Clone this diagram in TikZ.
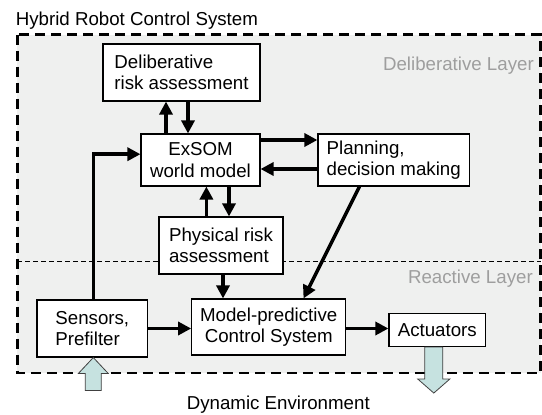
\documentclass[tikz,border=0pt]{standalone}
\usepackage{fontspec}
\setmainfont{Liberation Sans}
\usetikzlibrary{arrows.meta}
\definecolor{layerbg}{RGB}{239,240,239}
\definecolor{layertext}{RGB}{158,158,158}
\definecolor{envfill}{RGB}{198,226,224}
\begin{document}
\begin{tikzpicture}[x=1pt,y=-1pt,
        every node/.style={font=\fontsize{18.7}{21.5}\selectfont},
        block/.style={draw,line width=1.1pt,fill=white,inner sep=3pt},
        flow/.style={line width=3.5pt,-{Triangle[length=13pt,width=13pt]}},
        envarrow/.style={draw=black!75,line width=0.8pt,fill=envfill},
        layerlabel/.style={text=layertext,inner sep=0pt}]
    \useasboundingbox (0,0) rectangle (542,415);
    \fill[layerbg] (17.3,34.6) rectangle (540.7,373);
    \draw[line width=0.9pt,dash pattern=on 5pt off 3pt] (17.3,261) -- (540.7,261);
    \draw[line width=2.5pt,dash pattern=on 10pt off 6pt] (17.3,34.6) rectangle (540.7,373);
    \node[anchor=base west,inner sep=0pt] (title) at (15.6,26) {Hybrid Robot Control System};
    \node[layerlabel,anchor=base east] (dlayer) at (534,70.5) {Deliberative Layer};
    \node[layerlabel,anchor=base east] (rlayer) at (533,283) {Reactive Layer};
    \node[block,align=left,minimum width=157pt,minimum height=57pt] (drisk) at (181.5,72.5) {Deliberative\\risk assessment};
    \node[block,align=center,minimum width=119pt,minimum height=52pt] (exsom) at (200.5,160) {ExSOM\\world model};
    \node[block,align=left,minimum width=151.5pt,minimum height=52pt] (plan) at (393.7,160) {Planning,\\decision making};
    \node[block,align=left,minimum width=124pt,minimum height=57pt] (prisk) at (221,245.5) {Physical risk\\assessment};
    \node[block,align=left,minimum width=110.6pt,minimum height=57pt] (sens) at (92.3,328.5) {Sensors,\\Prefilter};
    \node[block,align=center,minimum width=154pt,minimum height=56pt] (mpc) at (268.7,327) {Model-predictive\\Control System};
    \node[block,minimum width=96.7pt,minimum height=33pt] (act) at (437.3,330) {Actuators};
    \node[anchor=base,inner sep=0pt] (env) at (278.3,409.5) {Dynamic Environment};
    \draw[flow] ([xshift=-34.5pt]exsom.north) -- ([xshift=-34.5pt]exsom.north |- drisk.south);
    \draw[flow] ([xshift=-12.5pt]exsom.north |- drisk.south) -- ([xshift=-12.5pt]exsom.north);
    \draw[flow] ([yshift=20pt]exsom.east) -- ([yshift=20pt]exsom.east -| plan.west);
    \draw[flow] ([yshift=-9pt]exsom.east -| plan.west) -- ([yshift=-9pt]exsom.east);
    \draw[flow] ([xshift=-14.6pt]prisk.north) -- ([xshift=-14.6pt]prisk.north |- exsom.south);
    \draw[flow] ([xshift=8pt]prisk.north |- exsom.south) -- ([xshift=8pt]prisk.north);
    \draw[flow] ([xshift=1pt]sens.north) |- ([yshift=5.8pt]exsom.west);
    \draw[flow] ([xshift=2pt]prisk.south) -- ([xshift=2pt]prisk.south |- mpc.north);
    \draw[flow] ([xshift=-34.2pt]plan.south) -- ([xshift=34.8pt]mpc.north);
    \draw[flow] (sens.east) -- (sens.east -| mpc.west);
    \draw[flow] ([yshift=-1.5pt]mpc.east) -- ([yshift=-1.5pt]mpc.east -| act.west);
    \draw[envarrow] ([xshift=1pt]sens.south) -- ++(15,16) -- ++(-7,0) -- ++(0,17)
        -- ++(-16,0) -- ++(0,-17) -- ++(-7,0) -- cycle;
    \draw[envarrow] ([xshift=-3.5pt]act.south) -- ++(9,0) -- ++(0,32) -- ++(7,0)
        -- ++(-16,14) -- ++(-16,-14) -- ++(7,0) -- ++(0,-32) -- cycle;
\end{tikzpicture}
\end{document}
